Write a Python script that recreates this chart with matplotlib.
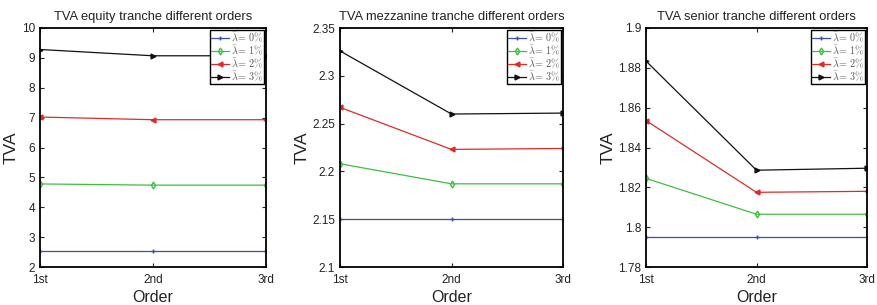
import matplotlib
matplotlib.use("Agg")
import matplotlib.pyplot as plt

plt.rcParams['font.family'] = ['Liberation Sans', 'DejaVu Sans']
plt.rcParams['mathtext.fontset'] = 'cm'

orders = ["1st", "2nd", "3rd"]
labels = [r'$\bar{\lambda}\!=\,0\%$', r'$\bar{\lambda}\!=\,1\%$', r'$\bar{\lambda}\!=\,2\%$', r'$\bar{\lambda}\!=\,3\%$']
colors = ["#3b4fb0", "#3fbf3f", "#e02a2a", "#111111"]
markers = ["+", "d", "<", ">"]

# equity tranche
equity = [
    [2.53, 2.53, 2.53],
    [4.78, 4.74, 4.74],
    [7.02, 6.93, 6.93],
    [9.28, 9.07, 9.07],
]
# mezzanine tranche
mezzanine = [
    [2.150, 2.150, 2.150],
    [2.208, 2.187, 2.187],
    [2.267, 2.223, 2.224],
    [2.326, 2.260, 2.261],
]
# senior tranche
senior = [
    [1.795, 1.795, 1.795],
    [1.8245, 1.8065, 1.8065],
    [1.8535, 1.8175, 1.818],
    [1.8834, 1.8286, 1.8296],
]

titles = ["TVA equity tranche different orders",
          "TVA mezzanine tranche different orders",
          "TVA senior tranche different orders"]
ylims = [(2, 10), (2.1, 2.35), (1.78, 1.9)]
yticks = [list(range(2, 11)),
          [2.1, 2.15, 2.2, 2.25, 2.3, 2.35],
          [1.78, 1.8, 1.82, 1.84, 1.86, 1.88, 1.9]]
yticklabels = [[str(v) for v in range(2, 11)],
               ["2.1", "2.15", "2.2", "2.25", "2.3", "2.35"],
               ["1.78", "1.8", "1.82", "1.84", "1.86", "1.88", "1.9"]]
datasets = [equity, mezzanine, senior]
# axes rectangles in pixels (left, top, right, bottom)
W, H = 877.0, 305.0
boxes = [(40, 28, 266, 267), (340, 28, 563, 267), (646, 28, 867, 267)]

fig = plt.figure(figsize=(8.77, 3.05), dpi=100)
x = [1, 2, 3]
for k in range(3):
    l, t, r, b = boxes[k]
    ax = fig.add_axes([l / W, 1 - b / H, (r - l) / W, (b - t) / H])
    for i in range(4):
        ax.plot(x, datasets[k][i], color=colors[i], marker=markers[i], markersize=3.5,
                markerfacecolor='none' if markers[i] == 'd' else colors[i],
                linewidth=0.9, label=labels[i])
    ax.set_xlim(1, 3)
    ax.set_ylim(*ylims[k])
    ax.set_xticks(x)
    ax.set_xticklabels(orders)
    ax.set_yticks(yticks[k])
    ax.set_yticklabels(yticklabels[k])
    ax.tick_params(direction='in', top=True, right=True, labelsize=8.5, length=3,
                   width=0.8, colors='#222222')
    ax.tick_params(axis='x', pad=5)
    for s in ax.spines.values():
        s.set_linewidth(1.3)
    ax.set_title(titles[k], fontsize=9.3, pad=6, color='#222222')
    ax.set_xlabel("Order", fontsize=11.5, labelpad=3, color='#222222')
    ax.set_ylabel("TVA", fontsize=12.5, labelpad=2, color='#222222')
    leg = ax.legend(loc='upper right', fontsize=7.3, handlelength=1.8, handletextpad=0.2,
                    borderpad=0.1, labelspacing=-0.1, borderaxespad=0.15, fancybox=False,
                    framealpha=1)
    leg.get_frame().set_edgecolor('black')
    leg.get_frame().set_linewidth(1.0)
    for txt in leg.get_texts():
        txt.set_color('#555555')

fig.savefig("out.png", dpi=100)
